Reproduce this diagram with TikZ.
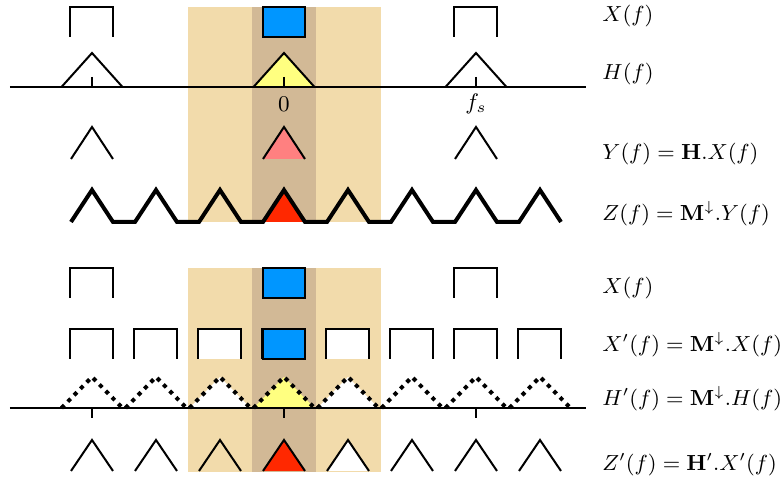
\documentclass[tikz,border=0pt]{standalone}
\usepackage{graphicx}
\definecolor{bandlight}{RGB}{242,219,171}
\definecolor{banddark}{RGB}{210,185,150}
\definecolor{specblue}{RGB}{0,150,255}
\definecolor{specyellow}{RGB}{255,255,128}
\definecolor{specpink}{RGB}{255,128,128}
\definecolor{specred}{RGB}{255,40,0}
\newcommand{\eqtext}[1]{\scalebox{0.97}{$#1$}}
\begin{document}
\begin{tikzpicture}[x=0.4pt,y=-0.4pt,
  thinline/.style={line width=0.8pt},
  heavy/.style={line width=1.6pt},
  dots/.style={line width=1.6pt, dash pattern=on 1.6pt off 2pt},
  lbl/.style={anchor=base west, inner sep=0pt, font=\small},
  axislbl/.style={anchor=base, inner sep=0pt, font=\small}]
\useasboundingbox (0,0) rectangle (783,477);

% pass-band shading
\fill[bandlight] (188,7) rectangle (381,222);
\fill[banddark] (252,7) rectangle (316,222);
\fill[bandlight] (188,268) rectangle (381,472);
\fill[banddark] (252,268) rectangle (316,472);

% ---------- upper panel ----------
% X(f)
\foreach \c in {92,476}
  \draw[thinline] (\c-21.5,37) -- (\c-21.5,7) -- (\c+21.5,7) -- (\c+21.5,37);
\filldraw[thinline, fill=specblue] (263.5,7) rectangle (305.5,37);

% H(f) and the frequency axis
\fill[specyellow] (253.5,87) -- (284,53) -- (314.5,87) -- cycle;
\foreach \c in {92,284,476}
  \draw[thinline] (\c-30.5,87) -- (\c,53) -- (\c+30.5,87);
\draw[thinline] (10,87) -- (586,87);
\foreach \c in {92,284,476}
  \draw[thinline] (\c,77) -- (\c,87);
\node[axislbl] (zero) at (284,112) {$0$};
\node[axislbl] (fs) at (476,110) {$f_s$};

% Y(f)
\fill[specpink] (263,159) -- (284,127) -- (305,159) -- cycle;
\foreach \c in {92,284,476}
  \draw[thinline] (\c-21,159) -- (\c,127) -- (\c+21,159);

% Z(f)
\fill[specred] (263,222) -- (284,190) -- (305,222) -- cycle;
\draw[heavy] (71,222) -- (92,190) -- (113,222)
  \foreach \c in {156,220,...,540} { -- (\c-21,222) -- (\c,190) -- (\c+21,222) };

% ---------- lower panel ----------
% X(f)
\foreach \c in {92,476}
  \draw[thinline] (\c-21.5,298) -- (\c-21.5,268) -- (\c+21.5,268) -- (\c+21.5,298);
\filldraw[thinline, fill=specblue] (263.5,268) rectangle (305.5,298);

% X'(f)
\foreach \c in {220,348}
  \fill[white] (\c-21.5,329) rectangle (\c+21.5,359);
\foreach \c in {92,156,...,540}
  \draw[thinline] (\c-21.5,359) -- (\c-21.5,329) -- (\c+21.5,329) -- (\c+21.5,359);
\filldraw[thinline, fill=specblue] (263.5,329) rectangle (305.5,359);

% H'(f) and the frequency axis
\foreach \c in {220,348}
  \fill[white] (\c-30.5,408) -- (\c,377) -- (\c+30.5,408) -- cycle;
\fill[specyellow] (253.5,408) -- (284,377) -- (314.5,408) -- cycle;
\draw[thinline] (10,408) -- (586,408);
\foreach \c in {92,284,476}
  \draw[thinline] (\c,408) -- (\c,418);
\foreach \c in {92,156,...,540}
  \draw[dots] (\c-30.5,408) -- (\c,377) -- (\c+30.5,408);

% Z'(f)
\fill[white] (327,471) -- (348,440) -- (369,471) -- cycle;
\fill[specred] (263,471) -- (284,440) -- (305,471) -- cycle;
\foreach \c in {92,156,...,540}
  \draw[thinline] (\c-21,471) -- (\c,440) -- (\c+21,471);

% ---------- equations ----------
\node[lbl] (lx)  at (602,22)  {\eqtext{X(f)}};
\node[lbl] (lh)  at (602,80)  {\eqtext{H(f)}};
\node[lbl] (ly)  at (602,160) {\eqtext{Y(f) = \mathbf{H}.X(f)}};
\node[lbl] (lz)  at (602,221) {\eqtext{Z(f) = \mathbf{M}^{\downarrow}.Y(f)}};
\node[lbl] (lx2) at (602,294) {\eqtext{X(f)}};
\node[lbl] (lxp) at (602,352) {\eqtext{X'(f) = \mathbf{M}^{\downarrow}.X(f)}};
\node[lbl] (lhp) at (602,406) {\eqtext{H'(f) = \mathbf{M}^{\downarrow}.H(f)}};
\node[lbl] (lzp) at (602,471) {\eqtext{Z'(f) = \mathbf{H}'.X'(f)}};
\end{tikzpicture}
\end{document}
